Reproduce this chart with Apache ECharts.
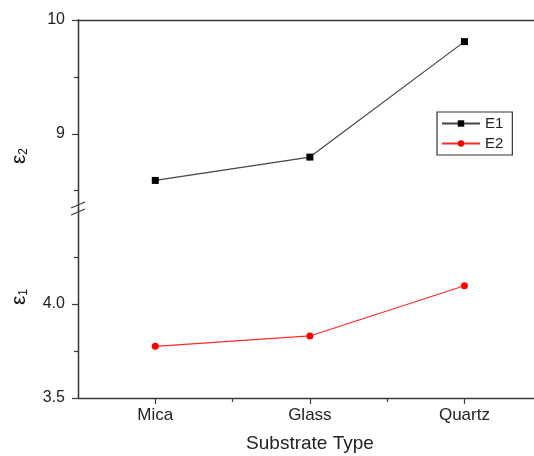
<!DOCTYPE html>
<html>
<head>
<meta charset="utf-8">
<script src="https://cdn.jsdelivr.net/npm/echarts@6/dist/echarts.min.js"></script>
<style>
html,body{margin:0;padding:0;background:#fff;}
#chart{width:534px;height:456px;}
</style>
</head>
<body>
<div id="chart"></div>
<script>
const categories = ['Mica', 'Glass', 'Quartz'];
const e1Values = [8.59, 8.795, 9.81];
const e2Values = [3.775, 3.83, 4.097];
const topMajorTicks = [9, 10];
const topMinorTicks = [8.5, 9.5];
const bottomMajorTicks = [3.5, 4.0];
const bottomMinorTicks = [3.75, 4.25];

const axisColor = '#3a3a3a';
const font = 'Liberation Sans, Arial, sans-serif';
const chart = echarts.init(document.getElementById('chart'));

const catPos = categories.map((c, i) => i + 1);
const catMid = catPos.slice(1).map(p => p - 0.5);
const X_MIN = 0.5, X_MAX = 3.45;

const G_LEFT = 78, G_RIGHT = 0;
const TOP_T = 20, TOP_H = 190;
const BOT_T = 210, BOT_H = 188;

function yAxisBase(grid, min, max, ticks, len, showLabel, fmt) {
  return {
    type: 'value', gridIndex: grid, min: min, max: max, position: 'left',
    axisLine: {show: true, lineStyle: {color: axisColor, width: 1.3}},
    axisTick: {show: true, length: len, customValues: ticks, lineStyle: {color: axisColor, width: 1.2}},
    axisLabel: {show: showLabel, customValues: ticks, margin: 13, fontSize: 16, color: '#222', fontFamily: font, formatter: fmt},
    splitLine: {show: false}
  };
}

const option = {
  animation: false,
  backgroundColor: '#fff',
  grid: [
    {left: G_LEFT, right: G_RIGHT, top: TOP_T, height: TOP_H},
    {left: G_LEFT, right: G_RIGHT, top: BOT_T, height: BOT_H}
  ],
  xAxis: [
    {type: 'value', gridIndex: 0, min: X_MIN, max: X_MAX, position: 'top',
     axisLine: {show: true, lineStyle: {color: axisColor, width: 1.3}},
     axisTick: {show: false}, axisLabel: {show: false}, splitLine: {show: false}},
    {type: 'value', gridIndex: 1, min: X_MIN, max: X_MAX, position: 'bottom',
     axisLine: {show: true, lineStyle: {color: axisColor, width: 1.3}},
     axisTick: {show: true, customValues: catPos, length: 6, lineStyle: {color: axisColor, width: 1.2}},
     axisLabel: {show: true, customValues: catPos, margin: 9, fontSize: 17, color: '#222', fontFamily: font,
       formatter: v => categories[Math.round(v) - 1]},
     name: 'Substrate Type', nameLocation: 'middle', nameGap: 36,
     nameTextStyle: {fontSize: 19, color: '#222', fontFamily: font, padding: [0, 0, 0, 8]},
     splitLine: {show: false}},
    {type: 'value', gridIndex: 1, min: X_MIN, max: X_MAX, position: 'bottom',
     axisLine: {show: false},
     axisTick: {show: true, customValues: catMid, length: 4, lineStyle: {color: axisColor, width: 1.2}},
     axisLabel: {show: false}, splitLine: {show: false}}
  ],
  yAxis: [
    yAxisBase(0, 8.33, 10, topMajorTicks, 6, true, v => String(Math.round(v))),
    yAxisBase(0, 8.33, 10, topMinorTicks, 4, false),
    yAxisBase(1, 3.5, 4.5, bottomMajorTicks, 6, true, v => v.toFixed(1)),
    yAxisBase(1, 3.5, 4.5, bottomMinorTicks, 4, false)
  ],
  legend: {
    orient: 'vertical', left: 437, top: 112,
    padding: [4, 9, 4, 4], itemGap: 5, itemWidth: 38, itemHeight: 8,
    borderColor: '#333', borderWidth: 1.2, backgroundColor: '#fff',
    textStyle: {fontSize: 15, color: '#222', fontFamily: font},
    data: ['E1', 'E2']
  },
  series: [
    {name: 'E1', type: 'line', xAxisIndex: 0, yAxisIndex: 0,
     data: e1Values.map((v, i) => [catPos[i], v]),
     symbol: 'rect', symbolSize: 7, itemStyle: {color: '#000'},
     lineStyle: {color: '#444', width: 1.2}},
    {name: 'E2', type: 'line', xAxisIndex: 1, yAxisIndex: 2,
     data: e2Values.map((v, i) => [catPos[i], v]),
     symbol: 'circle', symbolSize: 7, itemStyle: {color: '#ff0000'},
     lineStyle: {color: '#ff2a2a', width: 1.2}}
  ],
  graphic: [
    {type: 'line', shape: {x1: 71, y1: 208, x2: 85, y2: 202}, style: {stroke: axisColor, lineWidth: 1.2}},
    {type: 'line', shape: {x1: 71, y1: 215, x2: 85, y2: 209}, style: {stroke: axisColor, lineWidth: 1.2}},
    {type: 'text', x: 19, y: 156, rotation: Math.PI / 2,
     style: {text: '{e|ε}{s|2}', align: 'center', verticalAlign: 'middle', fill: '#111',
       rich: {e: {fontSize: 21, fontFamily: font, fill: '#111'}, s: {fontSize: 12, fontFamily: font, fill: '#111', padding: [9, 0, 0, 0]}}}},
    {type: 'text', x: 19, y: 297, rotation: Math.PI / 2,
     style: {text: '{e|ε}{s|1}', align: 'center', verticalAlign: 'middle', fill: '#111',
       rich: {e: {fontSize: 21, fontFamily: font, fill: '#111'}, s: {fontSize: 12, fontFamily: font, fill: '#111', padding: [9, 0, 0, 0]}}}}
  ]
};
chart.setOption(option);
</script>
</body>
</html>
